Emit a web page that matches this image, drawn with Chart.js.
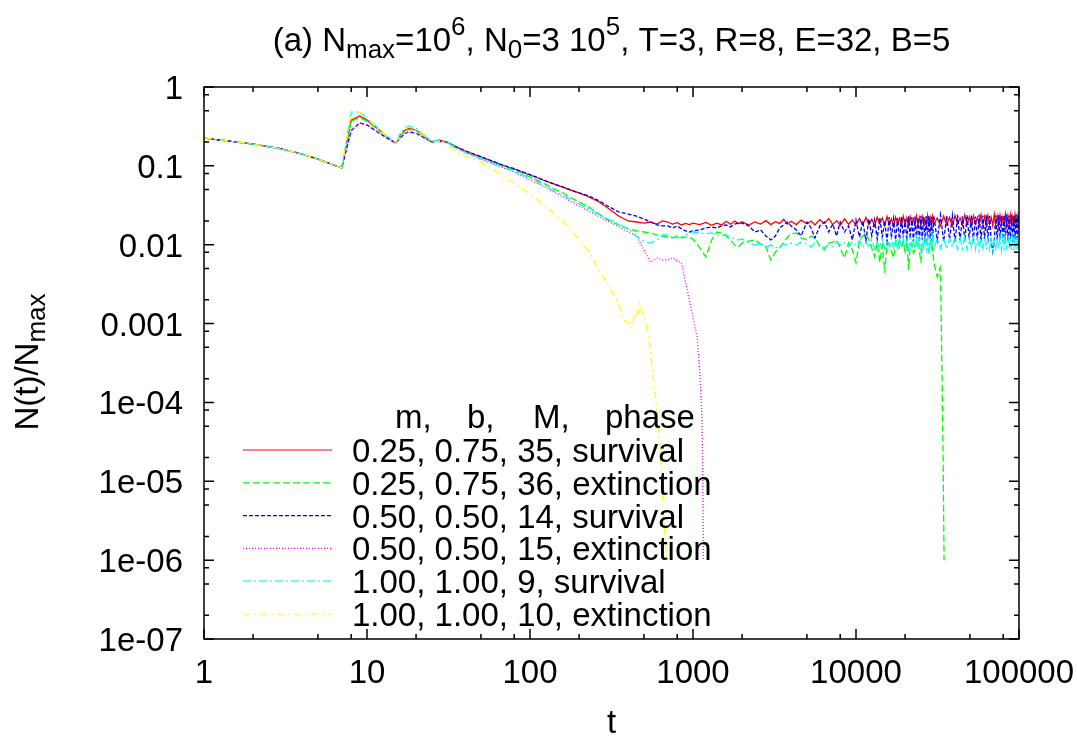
<!DOCTYPE html>
<html>
<head>
<meta charset="utf-8">
<script src="https://cdn.jsdelivr.net/npm/chart.js@4.4.1/dist/chart.umd.min.js"></script>
<style>
  html, body { margin: 0; background: #fff; }
  #wrap { width: 1077px; height: 736px; position: relative; }
</style>
</head>
<body>
<div id="wrap"><canvas id="chart"></canvas></div>
<script>
// ------------------------
// DATA
// ------------------------

// time grid up to t=650, shared by all runs
const tMain = [1, 2, 3, 4, 5, 6, 7, 8, 9, 10, 12, 14, 15, 16, 17, 18, 20, 22, 25, 28, 31, 35, 40,
    50, 60, 70, 80, 100, 120, 140, 160, 180, 200, 230, 260, 300, 350, 400, 450, 500, 550, 600, 650];

// time grid of the long-time (noisy) regime
const tTail = [700, 750, 800, 850, 900, 950, 1000,
    1100, 1200, 1300, 1400, 1500, 1600, 1700, 1800, 1900, 2000,
    2200, 2400, 2600, 2800, 3000, 3200, 3400, 3600, 3800,
    4000, 4300, 4600, 5000, 5300, 5600, 6000, 6400, 6800, 7200, 7600, 8000,
    8500, 9000, 9500, 10000,
    10500, 11000, 11500, 12000, 12500, 13000, 13500, 14000, 14500, 15000,
    15500, 16000, 16500, 17000, 17500, 18000, 18500, 19000, 19500, 20000,
    20500, 21000, 21500, 22000, 22500, 23000, 23500, 24000, 24500, 25000,
    25500, 26000, 26500, 27000, 27500, 28000, 28500, 29000, 29500, 30000,
    31500, 33000, 34500, 36000, 37500, 39000, 40500, 42000, 43500, 45000,
    46500, 48000, 49500, 51000, 52500, 54000, 55500, 57000, 58500, 60000,
    61500, 63000, 64500, 66000, 67500, 69000, 70500, 72000, 73500, 75000,
    76500, 78000, 79500, 81000, 82500, 84000, 85500, 87000, 88500, 90000,
    91500, 93000, 94500, 96000, 97500, 99000, 100000];

// m=0.25, b=0.75, M=35 (survival)
const redMain = [0.225, 0.189, 0.164, 0.141, 0.122, 0.106, 0.094, 0.38, 0.43, 0.38, 0.28, 0.215, 0.195, 0.245, 0.28, 0.30,
    0.285, 0.246, 0.20, 0.212, 0.20, 0.175, 0.154, 0.130, 0.112, 0.0996, 0.0912, 0.0766, 0.0662, 0.0589, 0.0535, 0.049,
    0.0453, 0.0403, 0.0358, 0.0292, 0.0231, 0.0200, 0.0194, 0.0188, 0.0194, 0.0183, 0.0200];
const redTail = [0.0194, 0.0183, 0.0190, 0.0178, 0.0186, 0.0180, 0.0188,
    0.0180, 0.0192, 0.0176, 0.0188, 0.0178, 0.0198, 0.0182, 0.0200, 0.0185, 0.0196,
    0.0178, 0.0195, 0.0183, 0.0202, 0.0180, 0.0196, 0.0186, 0.0210, 0.0182,
    0.0198, 0.0180, 0.0205, 0.0184, 0.0200, 0.0178, 0.0208, 0.0186, 0.0215, 0.0180, 0.0202, 0.0176,
    0.0212, 0.0182, 0.0206, 0.0178,
    0.0215, 0.0178, 0.0222, 0.0182, 0.0210, 0.0174, 0.0225, 0.0185, 0.0218, 0.0176,
    0.0228, 0.0180, 0.0212, 0.0172, 0.0224, 0.0184, 0.0216, 0.0175, 0.0230, 0.0181,
    0.0219, 0.0173, 0.0226, 0.0183, 0.0214, 0.0177, 0.0232, 0.0179, 0.0220, 0.0174,
    0.0227, 0.0186, 0.0213, 0.0172, 0.0234, 0.0180, 0.0221, 0.0176, 0.0229, 0.0182,
    0.0218, 0.0174, 0.0231, 0.0179, 0.0223, 0.0171, 0.0236, 0.0183, 0.0219, 0.0175,
    0.0238, 0.0180, 0.0225, 0.0172, 0.0233, 0.0184, 0.0221, 0.0176, 0.0240, 0.0179,
    0.0227, 0.0173, 0.0235, 0.0182, 0.0222, 0.0175, 0.0242, 0.0180, 0.0229, 0.0172,
    0.0237, 0.0185, 0.0224, 0.0176, 0.0244, 0.0181, 0.0230, 0.0174, 0.0239, 0.0183,
    0.0226, 0.0177, 0.0241, 0.0180, 0.0232, 0.0175, 0.0210];

// m=0.25, b=0.75, M=36 (extinction near t=34000)
const greenMain = [0.225, 0.189, 0.164, 0.141, 0.122, 0.106, 0.094, 0.37, 0.41, 0.37, 0.275, 0.215, 0.195, 0.24, 0.27, 0.29,
    0.28, 0.245, 0.20, 0.21, 0.20, 0.172, 0.150, 0.127, 0.110, 0.097, 0.089, 0.0723, 0.0608, 0.0510, 0.0453, 0.0391,
    0.0348, 0.0301, 0.0252, 0.0206, 0.0178, 0.0159, 0.0150, 0.0145, 0.0141, 0.0133, 0.0129];
const greenTail = [0.0125, 0.0122, 0.0129, 0.0122, 0.0125, 0.0125, 0.0118,
    0.0091, 0.0070, 0.0115, 0.0145, 0.0141, 0.0129, 0.0115, 0.0099, 0.0094, 0.0105,
    0.0111, 0.0115, 0.0102, 0.0094, 0.0064, 0.0081, 0.0091, 0.0108, 0.0125,
    0.0137, 0.0141, 0.0122, 0.0115, 0.0129, 0.0122, 0.0096, 0.0086, 0.0105, 0.0108, 0.0115, 0.0091,
    0.0068, 0.0105, 0.0086, 0.0059,
    0.0115, 0.0129, 0.0141, 0.0115, 0.0091, 0.0070, 0.0105, 0.0060, 0.0098, 0.0044,
    0.0102, 0.0105, 0.0082, 0.0068, 0.0112, 0.0115, 0.0088, 0.0094, 0.0108, 0.0081,
    0.0112, 0.0048, 0.0098, 0.0105, 0.0078, 0.0086, 0.0110, 0.0115, 0.0084, 0.0059,
    0.0102, 0.0099, 0.0118, 0.0122, 0.0090, 0.0081, 0.0108, 0.0115, 0.0085, 0.0060,
    0.0039];
const greenDropT = [32800, 33200, 34200, 34700];
const greenDropV = [0.0051, 0.0020, 2.5e-5, 1e-6];

// m=0.50, b=0.50, M=14 (survival)
const blueMain = [0.225, 0.189, 0.164, 0.141, 0.122, 0.106, 0.094, 0.28, 0.35, 0.33, 0.257, 0.21, 0.195, 0.225, 0.255, 0.27,
    0.26, 0.232, 0.20, 0.205, 0.198, 0.176, 0.155, 0.131, 0.113, 0.100, 0.092, 0.0775, 0.0665, 0.059, 0.0538, 0.049,
    0.0453, 0.0415, 0.0369, 0.031, 0.026, 0.0245, 0.0231, 0.0212, 0.0194, 0.0178, 0.0173];
const blueTail = [0.0173, 0.0163, 0.0173, 0.0159, 0.0150, 0.0145, 0.0150,
    0.0154, 0.0163, 0.0168, 0.0163, 0.0173, 0.0178, 0.0168, 0.0183, 0.0188, 0.0188,
    0.0173, 0.0145, 0.0154, 0.0129, 0.0115, 0.0129, 0.0163, 0.0178, 0.0194,
    0.0173, 0.0154, 0.0129, 0.0194, 0.0163, 0.0122, 0.0173, 0.0194, 0.0145, 0.0183, 0.0129, 0.0194,
    0.0145, 0.0173, 0.0115, 0.0206,
    0.0125, 0.0200, 0.0112, 0.0212, 0.0130, 0.0206, 0.0118, 0.0218, 0.0125, 0.0200,
    0.0110, 0.0224, 0.0120, 0.0212, 0.0115, 0.0218, 0.0108, 0.0226, 0.0122, 0.0210,
    0.0112, 0.0230, 0.0120, 0.0222, 0.0110, 0.0228, 0.0118, 0.0220, 0.0108, 0.0232,
    0.0115, 0.0225, 0.0110, 0.0230, 0.0112, 0.0235, 0.0118, 0.0226, 0.0109, 0.0233,
    0.0114, 0.0238, 0.0110, 0.0232, 0.0116, 0.0236, 0.0108, 0.0240, 0.0113, 0.0229,
    0.0111, 0.0237, 0.0117, 0.0234, 0.0112, 0.0228, 0.0115, 0.0241, 0.0109, 0.0235,
    0.0115, 0.0239, 0.0110, 0.0231, 0.0114, 0.0082, 0.0108, 0.0236, 0.0112, 0.0240,
    0.0117, 0.0233, 0.0109, 0.0238, 0.0113, 0.0244, 0.0110, 0.0235, 0.0115, 0.0241,
    0.0108, 0.0237, 0.0112, 0.0242, 0.0111, 0.0236, 0.0200];

// m=0.50, b=0.50, M=15 (extinction near t=1150)
const magentaMain = [0.225, 0.189, 0.164, 0.141, 0.122, 0.106, 0.094, 0.28, 0.35, 0.33, 0.257, 0.21, 0.195, 0.225, 0.255, 0.27,
    0.26, 0.232, 0.20, 0.205, 0.198, 0.170, 0.148, 0.122, 0.105, 0.093, 0.0836, 0.0662, 0.0556, 0.0466, 0.0403, 0.0348,
    0.031, 0.0268, 0.0231, 0.0200, 0.0168, 0.0145, 0.0129, 0.0086, 0.0060, 0.0068, 0.0064];
const magentaDropT = [700, 750, 800, 850, 920, 1000, 1060, 1105, 1135, 1150, 1158];
const magentaDropV = [0.0064, 0.0068, 0.0062, 0.0059, 0.0027, 0.00121, 0.00068, 0.00021, 6.5e-5, 9.5e-6, 1e-6];

// m=1.00, b=1.00, M=9 (survival)
const cyanMain = [0.225, 0.189, 0.164, 0.141, 0.122, 0.106, 0.094, 0.48, 0.48, 0.405, 0.285, 0.218, 0.197, 0.26, 0.30, 0.32,
    0.30, 0.255, 0.205, 0.215, 0.20, 0.170, 0.148, 0.122, 0.106, 0.094, 0.0861, 0.0702, 0.0572, 0.048, 0.0427, 0.0369,
    0.0328, 0.0284, 0.0245, 0.0212, 0.0183, 0.0158, 0.0129, 0.0111, 0.0105, 0.0115, 0.0133];
const cyanTail = [0.0133, 0.0125, 0.0122, 0.0125, 0.0133, 0.0141, 0.0145,
    0.0141, 0.0138, 0.0141, 0.0133, 0.0130, 0.0133, 0.0125, 0.0120, 0.0115, 0.0118,
    0.0105, 0.0099, 0.0105, 0.0094, 0.0099, 0.0091, 0.0096, 0.0102, 0.0099,
    0.0105, 0.0099, 0.0108, 0.0102, 0.0094, 0.0105, 0.0099, 0.0091, 0.0102, 0.0096, 0.0108, 0.0099,
    0.0105, 0.0094, 0.0110, 0.0098,
    0.0112, 0.0092, 0.0108, 0.0096, 0.0115, 0.0090, 0.0112, 0.0094, 0.0118, 0.0090,
    0.0114, 0.0096, 0.0120, 0.0091, 0.0115, 0.0088, 0.0118, 0.0093, 0.0122, 0.0090,
    0.0116, 0.0087, 0.0120, 0.0092, 0.0118, 0.0088, 0.0122, 0.0090, 0.0116, 0.0086,
    0.0120, 0.0092, 0.0124, 0.0089, 0.0121, 0.0087, 0.0118, 0.0091, 0.0124, 0.0086,
    0.0120, 0.0090, 0.0122, 0.0088, 0.0119, 0.0092, 0.0125, 0.0087, 0.0121, 0.0089,
    0.0126, 0.0086, 0.0122, 0.0091, 0.0124, 0.0088, 0.0127, 0.0085, 0.0121, 0.0090,
    0.0125, 0.0087, 0.0123, 0.0089, 0.0128, 0.0086, 0.0122, 0.0091, 0.0126, 0.0088,
    0.0124, 0.0085, 0.0127, 0.0090, 0.0123, 0.0087, 0.0129, 0.0089, 0.0125, 0.0086,
    0.0122, 0.0091, 0.0128, 0.0087, 0.0124, 0.0089, 0.0105];

// m=1.00, b=1.00, M=10 (extinction near t=690)
const yellowMain = [0.225, 0.189, 0.164, 0.141, 0.122, 0.106, 0.094, 0.50, 0.48, 0.40, 0.28, 0.216, 0.196, 0.25, 0.29, 0.31,
    0.29, 0.25, 0.198, 0.205, 0.19, 0.159, 0.133, 0.112, 0.0886, 0.0722, 0.0606, 0.044, 0.0328, 0.0252, 0.0194, 0.0150,
    0.0115, 0.0081, 0.0051, 0.0031, 0.00178];
const yellowDropT = [370, 400, 420, 440, 455, 470, 480, 490, 510, 540, 570, 600, 630, 660, 690];
const yellowDropV = [0.00112, 0.00105, 0.00088, 0.00136, 0.0012, 0.0018, 0.0015, 0.0014, 0.0011, 0.00057, 0.00021, 8e-5, 2.5e-5, 3.5e-6, 1e-6];

const seriesLabels = [
    "0.25, 0.75, 35, survival",
    "0.25, 0.75, 36, extinction",
    "0.50, 0.50, 14, survival",
    "0.50, 0.50, 15, extinction",
    "1.00, 1.00, 9, survival",
    "1.00, 1.00, 10, extinction"
];
const legendHeader = ["m,", "b,", "M,", "phase"];

const xMajor = [1, 10, 100, 1000, 10000, 100000];
const xTickLabels = ["1", "10", "100", "1000", "10000", "100000"];
const yMajor = [1, 0.1, 0.01, 0.001, 1e-4, 1e-5, 1e-6, 1e-7];
const yTickLabels = ["1", "0.1", "0.01", "0.001", "1e-04", "1e-05", "1e-06", "1e-07"];
const minorSteps = [2, 5, 8];

// ------------------------
// STYLE
// ------------------------

const FONT = '"Liberation Sans", Arial, Helvetica, sans-serif';
const FS = 33;
const colors = ["#ff0000", "#00ff00", "#0000ff", "#ff00ff", "#00ffff", "#ffff00"];
const dashes = [[], [7, 3], [4, 2], [1, 2], [8, 3, 2, 3], [7, 4, 2, 4]];

function pts(ts, vs) {
    return vs.map((v, i) => ({ x: ts[i], y: v }));
}

const seriesData = [
    pts(tMain.concat(tTail), redMain.concat(redTail)),
    pts(tMain.concat(tTail.slice(0, greenTail.length), greenDropT), greenMain.concat(greenTail, greenDropV)),
    pts(tMain.concat(tTail), blueMain.concat(blueTail)),
    pts(tMain.concat(magentaDropT), magentaMain.concat(magentaDropV)),
    pts(tMain.concat(tTail), cyanMain.concat(cyanTail)),
    pts(tMain.slice(0, yellowMain.length).concat(yellowDropT), yellowMain.concat(yellowDropV))
];

// ------------------------
// GNUPLOT-LIKE DECORATIONS
// ------------------------

function drawText(ctx, parts, x, y) {
    // parts: [text, kind] where kind is "", "sub" or "sup"
    let cx = x;
    parts.forEach(([txt, kind]) => {
        ctx.font = (kind ? 26 : FS) + "px " + FONT;
        const dy = kind === "sub" ? 7 : kind === "sup" ? -16 : 0;
        ctx.fillText(txt, cx, y + dy);
        cx += ctx.measureText(txt).width;
    });
    return cx - x;
}

function measureParts(ctx, parts) {
    let w = 0;
    parts.forEach(([txt, kind]) => {
        ctx.font = (kind ? 26 : FS) + "px " + FONT;
        w += ctx.measureText(txt).width;
    });
    return w;
}

const gnuplotDecor = {
    id: "gnuplotDecor",
    afterDraw(chart) {
        const ctx = chart.ctx;
        const a = chart.chartArea;
        const xs = chart.scales.x, ys = chart.scales.y;
        ctx.save();
        ctx.fillStyle = "#000";
        ctx.strokeStyle = "#000";

        // frame
        ctx.lineWidth = 1.5;
        ctx.strokeRect(a.left, a.top, a.right - a.left, a.bottom - a.top);

        // inward ticks on all four sides
        const tick = (px, len, vertical) => {
            ctx.beginPath();
            if (vertical) {
                ctx.moveTo(px, a.bottom); ctx.lineTo(px, a.bottom - len);
                ctx.moveTo(px, a.top); ctx.lineTo(px, a.top + len);
            } else {
                ctx.moveTo(a.left, px); ctx.lineTo(a.left + len, px);
                ctx.moveTo(a.right, px); ctx.lineTo(a.right - len, px);
            }
            ctx.stroke();
        };
        xMajor.forEach(v => tick(xs.getPixelForValue(v), 10, true));
        xMajor.slice(0, -1).forEach(d => minorSteps.forEach(m => tick(xs.getPixelForValue(d * m), 5, true)));
        yMajor.forEach(v => tick(ys.getPixelForValue(v), 10, false));
        yMajor.slice(0, -1).forEach(d => minorSteps.forEach(m => tick(ys.getPixelForValue(d * m / 10), 5, false)));

        // tick labels
        ctx.font = FS + "px " + FONT;
        ctx.textBaseline = "alphabetic";
        ctx.textAlign = "center";
        xMajor.forEach((v, i) => ctx.fillText(xTickLabels[i], xs.getPixelForValue(v), a.bottom + 44));
        ctx.textAlign = "right";
        yMajor.forEach((v, i) => ctx.fillText(yTickLabels[i], a.left - 21, ys.getPixelForValue(v) + 12));

        // axis titles
        ctx.textAlign = "center";
        ctx.fillText("t", (a.left + a.right) / 2, 733);
        ctx.textAlign = "left";
        const yParts = [["N(t)/N", ""], ["max", "sub"]];
        ctx.save();
        ctx.translate(38, 362);
        ctx.rotate(-Math.PI / 2);
        drawText(ctx, yParts, -measureParts(ctx, yParts) / 2, 0);
        ctx.restore();

        // title
        const tParts = [["(a) N", ""], ["max", "sub"], ["=10", ""], ["6", "sup"], [", N", ""], ["0", "sub"],
            ["=3 10", ""], ["5", "sup"], [", T=3, R=8, E=32, B=5", ""]];
        drawText(ctx, tParts, (a.left + a.right) / 2 - measureParts(ctx, tParts) / 2, 51);

        // key
        ctx.font = FS + "px " + FONT;
        const hx = [395, 467, 533, 605];
        legendHeader.forEach((w, i) => ctx.fillText(w, hx[i], 428));
        chart.data.datasets.forEach((ds, i) => {
            const yy = 450 + i * 32.8;
            ctx.save();
            ctx.strokeStyle = ds.borderColor;
            ctx.lineWidth = 1.2;
            ctx.setLineDash(ds.borderDash || []);
            ctx.beginPath();
            ctx.moveTo(243, yy);
            ctx.lineTo(332, yy);
            ctx.stroke();
            ctx.restore();
            ctx.fillText(ds.label, 352, yy + 12);
        });
        ctx.restore();
    }
};

// ------------------------
// CHART
// ------------------------

new Chart(document.getElementById("chart"), {
    type: "line",
    data: {
        datasets: seriesData.map((d, i) => ({
            label: seriesLabels[i],
            data: d,
            borderColor: colors[i],
            borderWidth: 1.3,
            borderDash: dashes[i],
            pointRadius: 0,
            fill: false,
            tension: 0,
            order: 6 - i
        }))
    },
    options: {
        responsive: true,
        maintainAspectRatio: false,
        animation: false,
        events: [],
        layout: { padding: { top: 87, right: 58, bottom: 0, left: 0 } },
        plugins: { legend: { display: false }, tooltip: { enabled: false }, title: { display: false } },
        scales: {
            x: {
                type: "logarithmic", min: 1, max: 100000,
                ticks: { display: false },
                grid: { display: false, drawTicks: false },
                border: { display: false },
                afterFit: s => { s.height = 97; s.paddingLeft = 0; s.paddingRight = 0; }
            },
            y: {
                type: "logarithmic", min: 1e-7, max: 1,
                ticks: { display: false },
                grid: { display: false, drawTicks: false },
                border: { display: false },
                afterFit: s => { s.width = 204; s.paddingTop = 0; s.paddingBottom = 0; }
            }
        }
    },
    plugins: [gnuplotDecor]
});
</script>
</body>
</html>
